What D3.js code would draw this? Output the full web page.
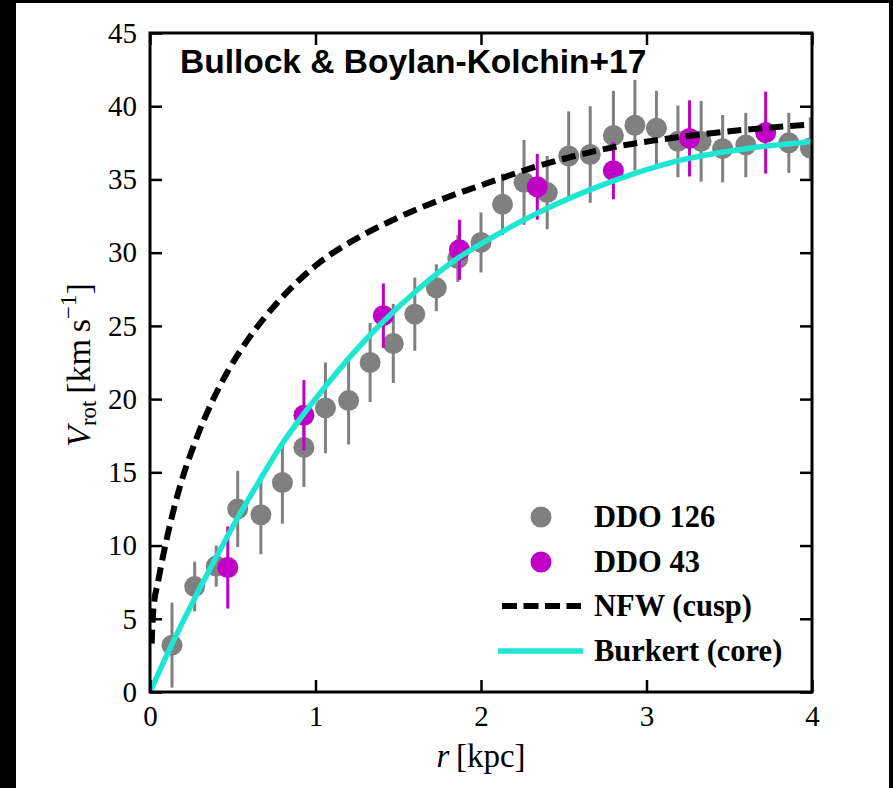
<!DOCTYPE html>
<html>
<head>
<meta charset="utf-8">
<script src="https://cdn.jsdelivr.net/npm/d3@7"></script>
<style>
  html, body { margin: 0; padding: 0; background: #000; }
  svg { display: block; }
</style>
</head>
<body>
<svg id="chart" width="893" height="788"></svg>
<script>
// DDO 126 rotation curve: radius [kpc], velocity [km/s], error [km/s]
const ddo126R   = [0.133, 0.27, 0.40, 0.53, 0.67, 0.80, 0.93, 1.06, 1.20, 1.33, 1.47, 1.60, 1.73, 1.86, 2.00, 2.13, 2.26, 2.40, 2.53, 2.66, 2.80, 2.93, 3.06, 3.19, 3.33, 3.46, 3.60, 3.86, 3.99];
const ddo126V   = [3.2, 7.2, 8.6, 12.5, 12.1, 14.3, 16.7, 19.4, 19.9, 22.5, 23.8, 25.8, 27.6, 29.6, 30.7, 33.3, 34.8, 34.1, 36.6, 36.7, 38.0, 38.7, 38.5, 37.6, 37.6, 37.1, 37.35, 37.5, 37.15];
const ddo126Err = [2.9, 1.7, 1.4, 2.6, 2.7, 2.8, 2.7, 3.1, 3.0, 2.7, 2.7, 2.5, 1.6, 1.6, 2.05, 2.1, 2.9, 2.5, 3.05, 3.3, 3.05, 3.1, 2.55, 2.45, 2.75, 2.3, 2.2, 2.05, 2.1];

// DDO 43 rotation curve
const ddo43R   = [0.47, 0.93, 1.41, 1.87, 2.34, 2.80, 3.26, 3.72];
const ddo43V   = [8.5, 18.9, 25.7, 30.2, 34.5, 35.6, 37.8, 38.2];
const ddo43Err = [2.8, 2.4, 2.2, 2.05, 2.25, 1.95, 2.6, 2.8];

// NFW (cuspy) halo model curve
const nfwR = [0.01, 0.02, 0.05, 0.11, 0.18, 0.27, 0.37, 0.47, 0.60, 0.77, 1.01, 1.27, 1.50, 1.80, 2.00, 2.40, 2.80, 3.20, 3.60, 4.00];
const nfwV = [3.3, 5.6, 7.6, 10.9, 14.0, 17.0, 19.7, 21.9, 24.2, 26.6, 29.2, 31.1, 32.4, 33.8, 34.6, 36.1, 37.2, 37.9, 38.4, 38.75];

// Burkert (cored) halo model curve
const burR = [0, 0.13, 0.27, 0.40, 0.53, 0.66, 0.79, 0.93, 1.07, 1.21, 1.41, 1.61, 1.87, 2.00, 2.34, 2.80, 3.20, 3.60, 4.00];
const burV = [0, 3.2, 6.4, 9.2, 11.9, 14.4, 16.8, 19.0, 21.0, 22.9, 25.3, 27.4, 29.7, 30.6, 32.7, 34.9, 36.3, 37.1, 37.6];

// Axis ticks
const xTicks = [0, 1, 2, 3, 4];
const yTicks = [0, 5, 10, 15, 20, 25, 30, 35, 40, 45];

const legendLabels = ["DDO 126", "DDO 43", "NFW (cusp)", "Burkert (core)"];
const titleText = "Bullock & Boylan-Kolchin+17";

const C_GRAY = "#808080", C_MAG = "#c000c4", C_CYAN = "#1de6d3";
const SERIF = "'Liberation Serif', 'Times New Roman', serif";
const SANS = "'Liberation Sans', Arial, sans-serif";

const svg = d3.select("#chart");
// page canvas
svg.append("rect").attr("x", 16).attr("y", 3).attr("width", 873).attr("height", 785).attr("fill", "#fff");

const L = 150, R = 812, T = 33, B = 692;
const x = d3.scaleLinear().domain([0, 4]).range([L, R]);
const y = d3.scaleLinear().domain([0, 45]).range([B, T]);

svg.append("defs").append("clipPath").attr("id", "plotclip")
  .append("rect").attr("x", L).attr("y", T).attr("width", R - L).attr("height", B - T);

const plot = svg.append("g").attr("clip-path", "url(#plotclip)");

function drawPoints(rs, vs, es, color) {
  const data = rs.map((r, i) => ({ r, v: vs[i], e: es[i] }));
  const g = plot.append("g");
  g.selectAll("line").data(data).join("line")
    .attr("x1", d => x(d.r)).attr("x2", d => x(d.r))
    .attr("y1", d => y(d.v - d.e)).attr("y2", d => y(d.v + d.e))
    .attr("stroke", color).attr("stroke-width", 3);
  g.selectAll("circle").data(data).join("circle")
    .attr("cx", d => x(d.r)).attr("cy", d => y(d.v)).attr("r", 10.5)
    .attr("fill", color);
}
drawPoints(ddo126R, ddo126V, ddo126Err, C_GRAY);
drawPoints(ddo43R, ddo43V, ddo43Err, C_MAG);

const line = d3.line().x(d => x(d[0])).y(d => y(d[1])).curve(d3.curveMonotoneX);
plot.append("path").datum(burR.map((r, i) => [r, burV[i]]))
  .attr("d", line).attr("fill", "none").attr("stroke", C_CYAN).attr("stroke-width", 5.5);
plot.append("path").datum(nfwR.map((r, i) => [r, nfwV[i]]))
  .attr("d", line).attr("fill", "none").attr("stroke", "#000").attr("stroke-width", 6)
  .attr("stroke-dasharray", "14,7");

// axes with inward ticks on all four sides
function styleAxis(g) {
  g.select(".domain").remove();
  g.selectAll(".tick line").attr("stroke", "#000").attr("stroke-width", 2.5);
  g.attr("font-family", SERIF).attr("font-size", 29);
  g.selectAll(".tick text").attr("fill", "#000");
}
svg.append("g").attr("transform", `translate(0,${B})`)
  .call(d3.axisBottom(x).tickValues(xTicks).tickSize(-12).tickPadding(13).tickFormat(d3.format("d")))
  .call(styleAxis);
svg.append("g").attr("transform", `translate(0,${T})`)
  .call(d3.axisTop(x).tickValues(xTicks).tickSize(-12).tickFormat(""))
  .call(styleAxis);
svg.append("g").attr("transform", `translate(${L},0)`)
  .call(d3.axisLeft(y).tickValues(yTicks).tickSize(-12).tickPadding(13).tickFormat(d3.format("d")))
  .call(styleAxis);
svg.append("g").attr("transform", `translate(${R},0)`)
  .call(d3.axisRight(y).tickValues(yTicks).tickSize(-12).tickFormat(""))
  .call(styleAxis);

svg.append("rect").attr("x", L).attr("y", T).attr("width", R - L).attr("height", B - T)
  .attr("fill", "none").attr("stroke", "#000").attr("stroke-width", 3);

// title
svg.append("text").attr("x", 180).attr("y", 73)
  .attr("font-family", SANS).attr("font-weight", "bold").attr("font-size", 33.5)
  .attr("fill", "#000").text(titleText);

// axis labels
const xl = svg.append("text").attr("x", (L + R) / 2).attr("y", 767).attr("text-anchor", "middle")
  .attr("font-family", SERIF).attr("font-size", 33).attr("fill", "#000");
xl.append("tspan").attr("font-style", "italic").text("r");
xl.append("tspan").text("\u2009[kpc]");

const yl = svg.append("text").attr("transform", "translate(90,365) rotate(-90)")
  .attr("text-anchor", "middle").attr("font-family", SERIF).attr("font-size", 34).attr("fill", "#000");
yl.append("tspan").attr("font-style", "italic").text("V");
yl.append("tspan").attr("font-size", 23).attr("dy", 6).text("rot");
yl.append("tspan").attr("dy", -6).text("\u2009[km\u2009s");
yl.append("tspan").attr("font-size", 23).attr("dy", -14).text("\u22121");
yl.append("tspan").attr("dy", 14).text("]");

// legend
const lg = svg.append("g");
const lgY = [517, 562, 606, 651];
lg.append("circle").attr("cx", 541).attr("cy", lgY[0]).attr("r", 10.5).attr("fill", C_GRAY);
lg.append("circle").attr("cx", 541).attr("cy", lgY[1]).attr("r", 10.5).attr("fill", C_MAG);
lg.append("line").attr("x1", 502).attr("x2", 581).attr("y1", lgY[2]).attr("y2", lgY[2])
  .attr("stroke", "#000").attr("stroke-width", 6).attr("stroke-dasharray", "15,6.5");
lg.append("line").attr("x1", 498).attr("x2", 583).attr("y1", lgY[3]).attr("y2", lgY[3])
  .attr("stroke", C_CYAN).attr("stroke-width", 5.5);
lg.selectAll("text").data(legendLabels).join("text")
  .attr("x", 594).attr("y", (d, i) => lgY[i] + 10)
  .attr("font-family", SERIF).attr("font-weight", "bold").attr("font-size", 30.5)
  .attr("fill", "#000").text(d => d);
</script>
</body>
</html>
